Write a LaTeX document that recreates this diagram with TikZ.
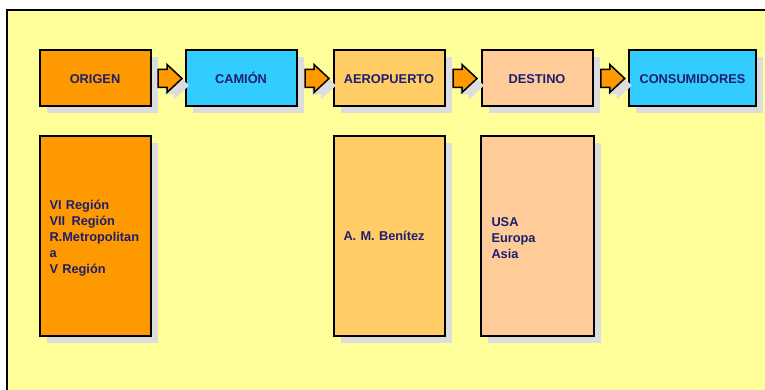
\documentclass[tikz,border=0pt]{standalone}
\usepackage{fontspec}
\setmainfont{Liberation Sans}
\usetikzlibrary{calc,positioning,shadows}

\definecolor{bgyellow}{HTML}{FFFF99}
\definecolor{orig}{HTML}{FF9900}
\definecolor{cyanbox}{HTML}{33CCFF}
\definecolor{aero}{HTML}{FFCC66}
\definecolor{dest}{HTML}{FFCC99}
\definecolor{shadowgray}{HTML}{DDDDDD}
\definecolor{navytext}{HTML}{1E1E6E}

\begin{document}
\begin{tikzpicture}[
    x=1pt, y=-1pt,
    font=\fontsize{12.8}{16}\selectfont\bfseries,
    boxshadow/.style={drop shadow={shadow xshift=7pt, shadow yshift=-7pt, fill=shadowgray, opacity=1}},
    stage/.style={draw, line width=2pt, minimum width=111pt, minimum height=56pt, text=navytext,
        text height=11pt, text depth=0pt, boxshadow},
    detail/.style={draw, line width=2pt, minimum width=111pt, minimum height=199pt, text=navytext,
        align=left, text width=91pt, inner sep=10pt, execute at end node={\endgraf\vspace*{-4pt}}, boxshadow},
    flow/.style={draw, line width=1.5pt, fill=orig, line join=miter, boxshadow}
]
    \clip (0,0) rectangle (765,390);

    % Background
    \draw[fill=bgyellow, line width=2pt] (7,10) rectangle (800,420);

    % Chain of stages
    \node[stage, fill=orig] (o) at (95,78.5) {ORIGEN};
    \node[stage, fill=cyanbox] (c) at (241,78.5) {CAMIÓN};
    \node[stage, fill=aero] (a) at (389,78.5) {AEROPUERTO};
    \node[stage, fill=dest] (d) at (537,78.5) {DESTINO};
    \node[stage, fill=cyanbox, minimum width=127pt] (k) at (692.5,78.5) {CONSUMIDORES};

    % Block arrows between stages
    \foreach \p/\q in {o/c, c/a, a/d, d/k} {
        \coordinate (m\p) at ($(\p.east)!0.5!(\q.west) + (2,0)$);
        \draw[flow] ($(m\p)+(-12,-9)$) -- ++(9,0) -- ++(0,-5) -- ++(15,14)
            -- ++(-15,14) -- ++(0,-5) -- ++(-9,0) -- cycle;
    }

    % Details below
    \node[detail, fill=orig, below=28pt of o] (od) {VI Región\\VII\, Región\\R.Metropolitan\\a\\V Región};
    \node[detail, fill=aero, below=28pt of a] (ad) {A. M. Benítez};
    \node[detail, fill=dest, below=28pt of d, minimum width=113pt] (dd) {USA\\Europa\\Asia};

\end{tikzpicture}
\end{document}
